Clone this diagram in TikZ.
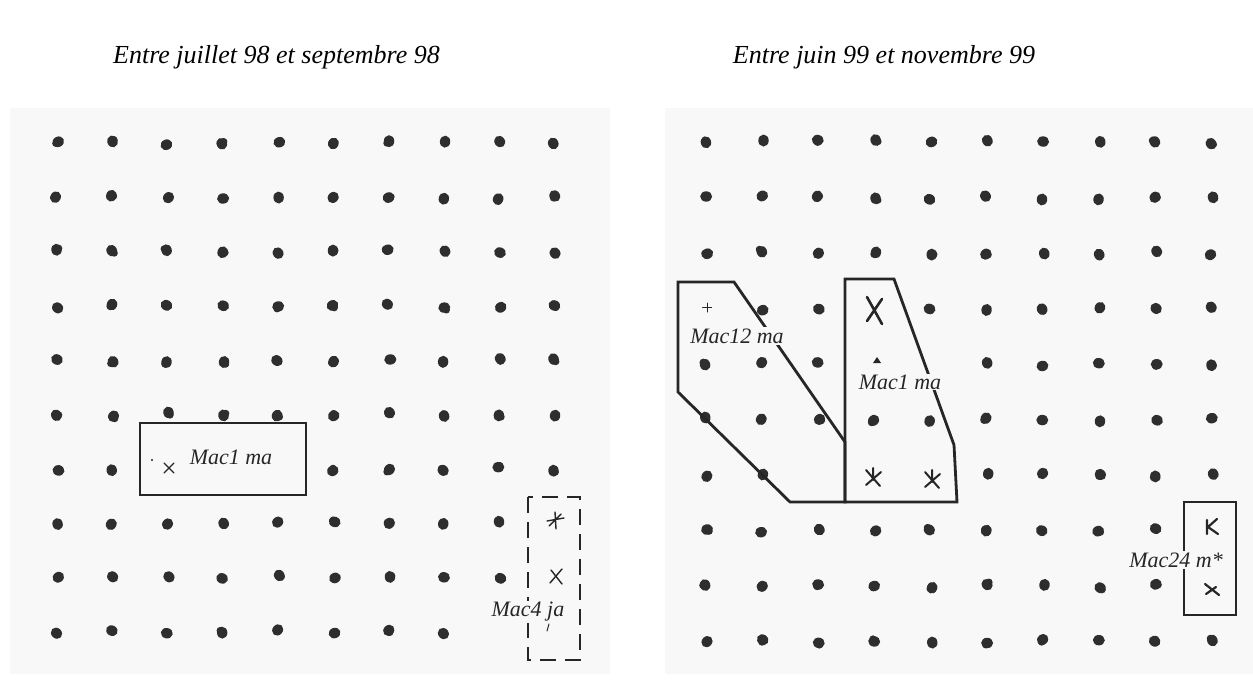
\documentclass[tikz,border=0pt]{standalone}
\usepackage{fontspec}
\setmainfont{Liberation Serif}
\definecolor{panelbg}{HTML}{F8F8F8}
\definecolor{ink}{HTML}{262626}
\definecolor{dotc}{HTML}{2E2E2E}
\tikzset{
  titletext/.style={font=\fontsize{26}{30}\selectfont\itshape, anchor=base, inner sep=0pt},
  labeltext/.style={font=\fontsize{22}{26}\selectfont\itshape, inner sep=1.5pt, text=ink},
  zone/.style={draw=ink, line width=2.8pt, line join=miter},
  dashzone/.style={draw=ink, line width=2.4pt, dash pattern=on 16pt off 9pt},
  stroke/.style={draw=ink, line width=1.4pt, line cap=round},
  heavystroke/.style={draw=ink, line width=2.6pt, line cap=round},
}
\newcommand\blob[2]{%
  \pgfmathsetmacro\bdx{rand*1.5}%
  \pgfmathsetmacro\bdy{rand*2}%
  \pgfmathsetmacro\brot{rnd*180}%
  \pgfmathsetmacro\bpx{#1+\bdx}%
  \pgfmathsetmacro\bpy{#2+\bdy}%
  \pgfmathsetmacro\bex{rand*2.5}%
  \pgfmathsetmacro\bey{rand*2.5}%
  \fill[dotc, rotate around={\brot:(\bpx,\bpy)}] (\bpx,\bpy) ellipse [x radius=5.2pt, y radius=6pt];
  \fill[dotc] (\bpx+\bex,\bpy+\bey) circle (3.6pt);}
\begin{document}
\begin{tikzpicture}[x=1pt,y=-1pt]
\useasboundingbox (0,0) rectangle (1253,682);
\pgfmathsetseed{17}
% panels
\fill[panelbg] (10,108) rectangle (610,674);
\fill[panelbg] (665,108) rectangle (1253,674);
% titles
\node[titletext] (title1) at (276.5,64) {Entre juillet 98 et septembre 98};
\node[titletext] (title2) at (884,64) {Entre juin 99 et novembre 99};
% left grid
\foreach \j/\cols in {0/{0,1,2,3,4,5,6,7,8,9},1/{0,1,2,3,4,5,6,7,8,9},2/{0,1,2,3,4,5,6,7,8,9},
  3/{0,1,2,3,4,5,6,7,8,9},4/{0,1,2,3,4,5,6,7,8,9},5/{0,1,2,3,4,5,6,7,8,9},6/{0,1,5,6,7,8,9},
  7/{0,1,2,3,4,5,6,7,8},8/{0,1,2,3,4,5,6,7,8},9/{0,1,2,3,4,5,6,7}}
  \foreach \i in \cols {\blob{57+55.3*\i}{143+54.3*\j}};
% right grid
\foreach \j/\cols in {0/{0,1,2,3,4,5,6,7,8,9},1/{0,1,2,3,4,5,6,7,8,9},2/{0,1,2,3,4,5,6,7,8,9},
  3/{1,2,4,5,6,7,8,9},4/{0,1,2,5,6,7,8,9},5/{0,1,2,3,4,5,6,7,8,9},6/{0,1,5,6,7,8,9},
  7/{0,1,2,3,4,5,6,7,8},8/{0,1,2,3,4,5,6,7,8},9/{0,1,2,3,4,5,6,7,8,9}}
  \foreach \i in \cols {\blob{706+56.2*\i}{142+55.5*\j}};
% ---- left panel zones
\draw[zone] (140,423) rectangle (306,495);
\node[labeltext] (lab1) at (231,457) {Mac1 ma};
\draw[stroke] (164,463) -- (174,473) (174,463) -- (164,473);
\fill[ink] (152,460) circle (1.2pt);
\draw[dashzone] (528,497) rectangle (580,660);
\node[labeltext, fill=panelbg] (lab4) at (528,612) {Mac4 ja};
\draw[stroke] (555,512) -- (556,529) (547,521) -- (564,518) (549,526) -- (561,514);
\draw[stroke] (551,570) -- (562,584) (562,569) -- (550,583);
\draw[stroke, line width=1pt] (549,624) -- (547,631);
% ---- right panel zones
\draw[zone] (678,282) -- (734,282) -- (845,442) -- (845,502) -- (790,502) -- (678,392) -- cycle;
\draw[zone] (845,279) -- (894,279) -- (954,445) -- (957,502) -- (845,502) -- cycle;
\node[labeltext, fill=panelbg] (lab12) at (737,336) {Mac12 ma};
\node[labeltext, fill=panelbg, inner sep=0.5pt] (labr1) at (900,382) {Mac1 ma};
\draw[stroke, line width=1pt] (707,303) -- (707,312) (702.5,307.5) -- (711.5,307.5);
\draw[heavystroke] (867,297) -- (882,324) (882,299) -- (867,321);
\fill[ink] (877,357) -- (873,363) -- (881,363) -- cycle;
\foreach \sx/\sy in {873/478, 932/480}
  \draw[stroke, line width=2pt] (\sx-7,\sy-8) -- (\sx+7,\sy+8) (\sx+8,\sy-6) -- (\sx-7,\sy+7) (\sx,\sy-10) -- (\sx,\sy+2);
\draw[zone] (1184,502) rectangle (1236,615);
\node[labeltext, fill=panelbg] (lab24) at (1176,560) {Mac24 m*};
\draw[heavystroke, line width=2.2pt] (1207,520) -- (1207,534) (1217,519) -- (1208,527) -- (1218,534);
\draw[heavystroke, line width=2.2pt] (1205,584) -- (1219,595) (1206,594) -- (1216,587);
\end{tikzpicture}
\end{document}
